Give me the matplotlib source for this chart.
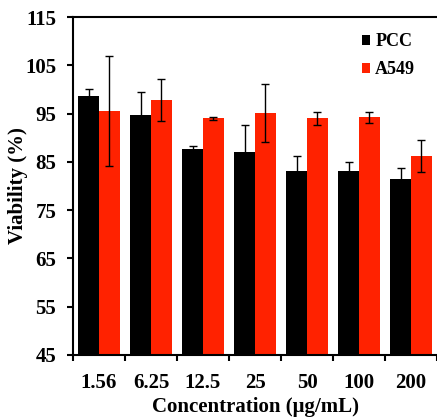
import numpy as np
import matplotlib.pyplot as plt

concentrations = ["1.56", "6.25", "12.5", "25", "50", "100", "200"]
pcc_mean = [98.7, 94.7, 87.7, 87.1, 83.2, 83.1, 81.4]
pcc_err = [1.3, 4.7, 0.5, 5.6, 3.1, 1.9, 2.3]
a549_mean = [95.5, 97.8, 94.0, 95.1, 94.0, 94.2, 86.2]
a549_err = [11.4, 4.4, 0.3, 6.0, 1.4, 1.2, 3.3]

plt.rcParams["font.family"] = ["Liberation Serif", "DejaVu Serif"]
plt.rcParams["font.weight"] = "bold"

fig = plt.figure(figsize=(4.37, 4.17), dpi=100)
ax = fig.add_axes([73 / 437, 1 - 355 / 417, 364 / 437, 338 / 417])

x = np.arange(len(concentrations))
w = 0.4
ax.bar(x - w / 2, pcc_mean, w, yerr=pcc_err, color="black", label="PCC",
       error_kw=dict(ecolor="black", elinewidth=1, capsize=3, capthick=1))
ax.bar(x + w / 2, a549_mean, w, yerr=a549_err, color="#ff2200", label="A549",
       error_kw=dict(ecolor="black", elinewidth=1, capsize=3, capthick=1))

ax.set_xlim(-0.5, len(concentrations) - 0.5)
ax.set_ylim(45, 115)
ax.set_yticks(range(45, 116, 10))
ax.set_xticks(x)
ax.set_xticklabels(concentrations)
ax.set_xticks(np.arange(len(concentrations) + 1) - 0.5, minor=True)
ax.tick_params(axis="x", which="major", length=0, pad=13, labelsize=15)
ax.tick_params(axis="x", which="minor", length=4, width=1.5, direction="out")
ax.tick_params(axis="y", length=4, width=1.5, direction="out", pad=8, labelsize=15)

for lab in ax.get_xticklabels() + ax.get_yticklabels():
    lab.set_fontweight("bold")

ax.spines["right"].set_visible(False)
for s in ["left", "top", "bottom"]:
    ax.spines[s].set_linewidth(1.5)

ax.set_xlabel("Concentration (μg/mL)", fontsize=15, fontweight="bold", labelpad=2.5)
ax.set_ylabel("Viability (%)", fontsize=15, fontweight="bold")
ax.yaxis.set_label_coords(-0.124, 0.5)

ax.legend(loc="upper right", bbox_to_anchor=(0.985, 1.0), frameon=False,
          handlelength=0.45, handleheight=0.45, handletextpad=0.3,
          labelspacing=0.6, prop=dict(weight="bold", size=13))

fig.savefig("out.png", dpi=100)
